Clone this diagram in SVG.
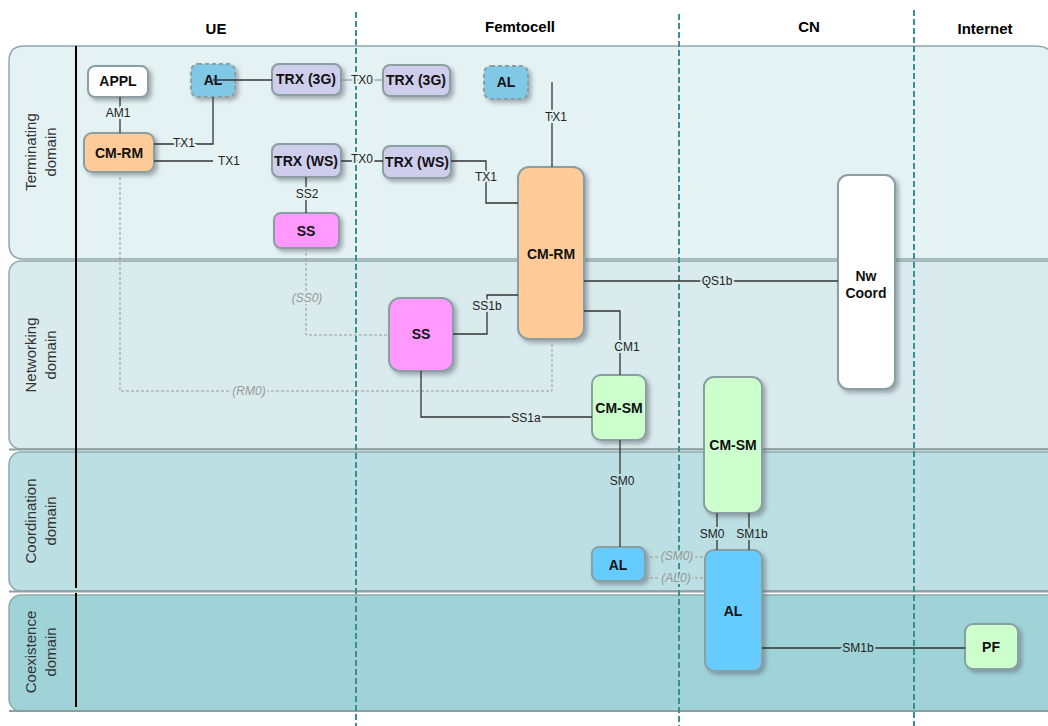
<svg xmlns="http://www.w3.org/2000/svg" width="1048" height="726" viewBox="0 0 1048 726">
  <defs>
    <filter id="shadow" x="-20%" y="-20%" width="150%" height="150%">
      <feDropShadow dx="3" dy="3" stdDeviation="2" flood-color="#556" flood-opacity="0.45"/>
    </filter>
    <style>
      .hdr { font-family: "Liberation Sans", Arial, sans-serif; font-size: 15px; font-weight: bold; fill: #000; text-anchor: middle; }
      .band-lbl { font-family: "Liberation Sans", Arial, sans-serif; font-size: 15px; fill: #333; text-anchor: middle; }
      .band { stroke: #8fa8aa; stroke-width: 1.5; }
      .col { stroke: #3b8e93; stroke-width: 2; stroke-dasharray: 6 3; fill: none; }
      .node rect { stroke: #8a9fa2; stroke-width: 2; filter: url(#shadow); }
      .node text { font-family: "Liberation Sans", Arial, sans-serif; font-size: 14px; font-weight: bold; fill: #111; text-anchor: middle; dominant-baseline: central; }
      .dash rect { stroke-dasharray: 4 3; }
      .wire { stroke: #333; stroke-width: 1.3; fill: none; }
      .wire-l { stroke: #888; stroke-width: 1.2; fill: none; }
      .ghost { stroke: #999; stroke-width: 1; stroke-dasharray: 3 2; fill: none; }
      .lbl { font-family: "Liberation Sans", Arial, sans-serif; font-size: 12px; fill: #222; text-anchor: middle; dominant-baseline: central; paint-order: stroke; stroke-width: 4; }
      .glbl { font-family: "Liberation Sans", Arial, sans-serif; font-size: 12px; font-style: italic; fill: #999; text-anchor: middle; dominant-baseline: central; paint-order: stroke; stroke-width: 4; }
      .b1 { stroke: #e4f2f3; }
      .b2 { stroke: #d9ebec; }
      .b3 { stroke: #bbdfe2; }
      .b4 { stroke: #9fd3d8; }
    </style>
  </defs>

  <rect width="1048" height="726" fill="#fff"/>

  <!-- domain bands -->
  <g id="bands">
    <path class="band" d="M1060,259 H24 Q9,259 9,244 V61 Q9,46 24,46 H1034 Q1048,46 1050,52 V259" fill="#e4f2f3"/>
    <rect class="band" x="9" y="261" width="1060" height="188" rx="12" fill="#d9ebec"/>
    <rect class="band" x="9" y="452" width="1060" height="139" rx="12" fill="#bbdfe2"/>
    <rect class="band" x="9" y="595" width="1060" height="116" rx="12" fill="#9fd3d8"/>
    <line x1="9" y1="449.5" x2="1048" y2="449.5" stroke="#8a9fa1" stroke-width="2"/>
    <line x1="9" y1="591.5" x2="1048" y2="591.5" stroke="#8a9fa1" stroke-width="2"/>
    <line x1="9" y1="711" x2="1048" y2="711" stroke="#8a9fa1" stroke-width="2"/>
    <line x1="76" y1="46" x2="76" y2="588" stroke="#000" stroke-width="2"/>
    <line x1="76" y1="593" x2="76" y2="707" stroke="#000" stroke-width="2"/>
    <text class="band-lbl" transform="translate(36,152) rotate(-90)">Terminating</text>
    <text class="band-lbl" transform="translate(56,152) rotate(-90)">domain</text>
    <text class="band-lbl" transform="translate(36,355) rotate(-90)">Networking</text>
    <text class="band-lbl" transform="translate(56,355) rotate(-90)">domain</text>
    <text class="band-lbl" transform="translate(36,521) rotate(-90)">Coordination</text>
    <text class="band-lbl" transform="translate(56,521) rotate(-90)">domain</text>
    <text class="band-lbl" transform="translate(36,652) rotate(-90)">Coexistence</text>
    <text class="band-lbl" transform="translate(56,652) rotate(-90)">domain</text>
  </g>

  <!-- column separators and headings -->
  <g id="columns">
    <line class="col" x1="356" y1="12" x2="356" y2="726"/>
    <line class="col" x1="679" y1="14" x2="679" y2="726"/>
    <line class="col" x1="914" y1="10" x2="914" y2="726"/>
    <text class="hdr" x="216" y="34">UE</text>
    <text class="hdr" x="520" y="32">Femtocell</text>
    <text class="hdr" x="809" y="32">CN</text>
    <text class="hdr" x="985" y="34">Internet</text>
  </g>

  <!-- nodes -->
  <g id="ue-appl" class="node"><rect x="88" y="66" width="60" height="31" rx="7" fill="#fff"/><text x="118" y="81">APPL</text></g>
  <g id="ue-al" class="node dash"><rect x="191" y="64" width="44" height="33" rx="7" fill="#7fc8e6"/><text x="213" y="80">AL</text></g>
  <g id="ue-trx3g" class="node"><rect x="272" y="64" width="69" height="31" rx="7" fill="#cfcdec"/><text x="306" y="79">TRX (3G)</text></g>
  <g id="fc-trx3g" class="node"><rect x="383" y="65" width="67" height="31" rx="7" fill="#cfcdec"/><text x="416" y="80">TRX (3G)</text></g>
  <g id="fc-al-t" class="node dash"><rect x="484" y="66" width="44" height="33" rx="7" fill="#7fc8e6"/><text x="506" y="82">AL</text></g>
  <g id="ue-cmrm" class="node"><rect x="84" y="133" width="70" height="39" rx="8" fill="#ffcc99"/><text x="119" y="153">CM-RM</text></g>
  <g id="ue-trxws" class="node"><rect x="272" y="144" width="69" height="33" rx="7" fill="#cfcdec"/><text x="306" y="161">TRX (WS)</text></g>
  <g id="fc-trxws" class="node"><rect x="383" y="146" width="68" height="32" rx="7" fill="#cfcdec"/><text x="417" y="162">TRX (WS)</text></g>
  <g id="ue-ss" class="node"><rect x="274" y="213" width="65" height="35" rx="7" fill="#ff99ff"/><text x="306" y="231">SS</text></g>
  <g id="fc-cmrm" class="node"><rect x="518" y="167" width="66" height="172" rx="11" fill="#ffcc99"/><text x="551" y="254">CM-RM</text></g>
  <g id="fc-ss" class="node"><rect x="389" y="298" width="64" height="73" rx="11" fill="#ff99ff"/><text x="421" y="334">SS</text></g>
  <g id="cn-nwcoord" class="node"><rect x="838" y="175" width="57" height="214" rx="10" fill="#fff"/><text x="866" y="276">Nw</text><text x="866" y="293">Coord</text></g>
  <g id="fc-cmsm" class="node"><rect x="592" y="375" width="54" height="65" rx="9" fill="#ccffcc"/><text x="619" y="408">CM-SM</text></g>
  <g id="cn-cmsm" class="node"><rect x="704" y="377" width="58" height="136" rx="10" fill="#ccffcc"/><text x="733" y="445">CM-SM</text></g>
  <g id="fc-al" class="node"><rect x="592" y="547" width="53" height="34" rx="7" fill="#66ccff"/><text x="618" y="565">AL</text></g>
  <g id="cn-al" class="node"><rect x="705" y="550" width="57" height="121" rx="9" fill="#66ccff"/><text x="733" y="611">AL</text></g>
  <g id="inet-pf" class="node"><rect x="965" y="624" width="53" height="45" rx="8" fill="#ccffcc"/><text x="991" y="647">PF</text></g>

  <!-- connectors -->
  <g id="connectors">
    <path class="wire" d="M120,97 V133"/>
    <text class="lbl b1" x="118" y="113">AM1</text>

    <path class="wire" d="M154,144 H213 V97"/>
    <text class="lbl b1" x="184" y="143">TX1</text>
    <path class="wire" d="M213,80 H272"/>

    <path class="wire" d="M154,161 H213"/>
    <text class="lbl b1" x="229" y="161">TX1</text>

    <path class="wire-l" d="M341,80 H383"/>
    <text class="lbl b1" x="362" y="80">TX0</text>

    <path class="wire" d="M341,161 H383"/>
    <text class="lbl b1" x="362" y="159">TX0</text>

    <path class="wire" d="M451,161 H486 V203 H518"/>
    <text class="lbl b1" x="486" y="177">TX1</text>

    <path class="wire" d="M552,82 V167"/>
    <text class="lbl b1" x="556" y="117">TX1</text>

    <path class="wire" d="M306,177 V213"/>
    <text class="lbl b1" x="307" y="194">SS2</text>

    <path class="ghost" d="M306,248 V335 H389"/>
    <text class="glbl b2" x="307" y="298">(SS0)</text>

    <path class="ghost" d="M120,172 V391 H552 V339"/>
    <text class="glbl b2" x="249" y="391">(RM0)</text>

    <path class="wire" d="M453,334 H487 V295 H518"/>
    <text class="lbl b2" x="487" y="306">SS1b</text>

    <path class="wire" d="M421,371 V417 H592"/>
    <text class="lbl b2" x="526" y="418">SS1a</text>

    <path class="wire" d="M584,311 H620 V375"/>
    <text class="lbl b2" x="627" y="347">CM1</text>

    <path class="wire" d="M584,281 H838"/>
    <text class="lbl b2" x="717" y="281">QS1b</text>

    <path class="wire" d="M620,440 V547"/>
    <text class="lbl b3" x="622" y="481">SM0</text>

    <path class="wire" d="M717,513 V550"/>
    <text class="lbl b3" x="712" y="534">SM0</text>
    <path class="wire" d="M749,513 V550"/>
    <text class="lbl b3" x="752" y="534">SM1b</text>

    <path class="ghost" d="M645,557 H705"/>
    <text class="glbl b3" x="677" y="556">(SM0)</text>
    <path class="ghost" d="M645,578 H705"/>
    <text class="glbl b3" x="676" y="578">(AL0)</text>

    <path class="wire" d="M762,648 H965"/>
    <text class="lbl b4" x="858" y="648">SM1b</text>
  </g>
</svg>
